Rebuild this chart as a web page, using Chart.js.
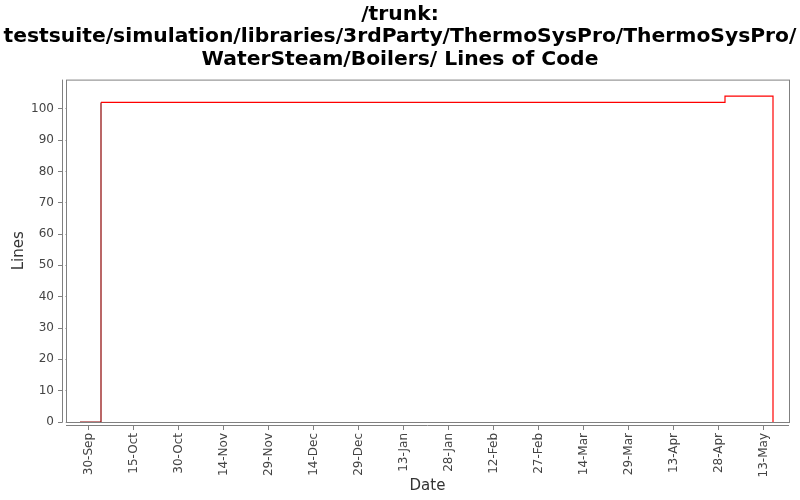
<!DOCTYPE html>
<html>
<head>
<meta charset="utf-8">
<script src="https://cdn.jsdelivr.net/npm/chart.js@4/dist/chart.umd.min.js"></script>
<style>
  html, body { margin: 0; padding: 0; background: #fff; }
  #wrap { width: 800px; height: 500px; }
</style>
</head>
<body>
<div id="wrap"><canvas id="locChart"></canvas></div>
<script>
// values
const titleLines = ["/trunk:", "testsuite/simulation/libraries/3rdParty/ThermoSysPro/ThermoSysPro/", "WaterSteam/Boilers/ Lines of Code"];
const stepDates = ["2008-09-27", "2008-10-04", "2009-04-30", "2009-05-16"];
const lineCounts = [0, 102, 104, 0];
const xTickDates = ["2008-09-30", "2008-10-15", "2008-10-30", "2008-11-14", "2008-11-29", "2008-12-14",
                    "2008-12-29", "2009-01-13", "2009-01-28", "2009-02-12", "2009-02-27", "2009-03-14",
                    "2009-03-29", "2009-04-13", "2009-04-28", "2009-05-13"];
const xRange = ["2008-09-22T08:00:00Z", "2009-05-21T08:00:00Z"];
const yTicks = [0, 10, 20, 30, 40, 50, 60, 70, 80, 90, 100];
const yMax = 109.3;

const monthNames = ["Jan", "Feb", "Mar", "Apr", "May", "Jun", "Jul", "Aug", "Sep", "Oct", "Nov", "Dec"];
const FONT = "'DejaVu Sans', sans-serif";

function toDay(s) {
    if (s.length === 10) s = s + "T00:00:00Z";
    return Date.parse(s) / 864e5;
}

function dayLabel(d) {
    const dt = new Date(Math.round(d) * 864e5);
    return dt.getUTCDate() + "-" + monthNames[dt.getUTCMonth()];
}

const points = stepDates.map((d, i) => ({ x: toDay(d), y: lineCounts[i] }));

// box around the plot, plus axis lines set a little outside it
const boxPlugin = {
    id: 'boxPlugin',
    afterDraw(chart) {
        const a = chart.chartArea;
        const ctx = chart.ctx;
        ctx.save();
        // clear the tick stubs inside the gap between axis and box
        ctx.fillStyle = '#fff';
        ctx.fillRect(a.left - 3.5, a.top, 3, a.bottom - a.top + 4);
        ctx.fillRect(a.left - 3.5, a.bottom + 0.5, a.right - a.left + 4, 3);
        ctx.strokeStyle = '#808080';
        ctx.lineWidth = 1;
        ctx.strokeRect(a.left + 0.5, a.top + 0.5, a.right - a.left, a.bottom - a.top);
        ctx.beginPath();
        ctx.moveTo(a.left - 3.5, a.top);
        ctx.lineTo(a.left - 3.5, a.bottom + 0.5);
        ctx.moveTo(a.left, a.bottom + 3.5);
        ctx.lineTo(a.right, a.bottom + 3.5);
        ctx.stroke();
        ctx.restore();
    }
};

new Chart(document.getElementById('locChart'), {
    type: 'line',
    data: {
        datasets: [{
            label: 'Lines of Code',
            data: points,
            borderColor: '#ff0000',
            borderWidth: 1.2,
            stepped: 'before',
            pointRadius: 0,
            fill: false,
            segment: {
                borderColor: c => c.p0DataIndex === 0 ? '#8c0000' : '#ff0000'
            }
        }]
    },
    options: {
        responsive: true,
        maintainAspectRatio: false,
        animation: false,
        layout: { padding: 0 },
        scales: {
            x: {
                type: 'linear',
                min: toDay(xRange[0]),
                max: toDay(xRange[1]),
                afterBuildTicks: s => { s.ticks = xTickDates.map(d => ({ value: toDay(d) })); },
                afterFit: s => { s.height = 78; },
                border: { display: false },
                grid: { drawOnChartArea: false, tickLength: 8, color: '#808080' },
                ticks: {
                    autoSkip: false,
                    minRotation: 90,
                    maxRotation: 90,
                    padding: 3,
                    color: '#444',
                    font: { family: FONT, size: 12 },
                    callback: v => dayLabel(v)
                },
                title: {
                    display: true,
                    text: 'Date',
                    color: '#333',
                    font: { family: FONT, size: 15 },
                    padding: { top: 0, bottom: 5 }
                }
            },
            y: {
                min: 0,
                max: yMax,
                afterBuildTicks: s => { s.ticks = yTicks.map(v => ({ value: v })); },
                afterFit: s => { s.width = 66; },
                border: { display: false },
                grid: { drawOnChartArea: false, tickLength: 8, color: '#808080' },
                ticks: {
                    padding: 4,
                    color: '#444',
                    font: { family: FONT, size: 12 }
                },
                title: {
                    display: true,
                    text: 'Lines',
                    color: '#333',
                    font: { family: FONT, size: 15 },
                    padding: { top: 10, bottom: 0 }
                }
            },
            // empty right-hand strip so the title keeps the full canvas width
            yRight: {
                position: 'right',
                afterFit: s => { s.width = 11; },
                border: { display: false },
                grid: { display: false },
                ticks: { display: false }
            }
        },
        plugins: {
            legend: { display: false },
            tooltip: { enabled: false },
            title: {
                display: true,
                text: titleLines,
                color: '#000',
                font: { family: FONT, size: 20.3, weight: 'bold', lineHeight: 1.11 },
                padding: { top: 3, bottom: 9 }
            }
        }
    },
    plugins: [boxPlugin]
});
</script>
</body>
</html>
